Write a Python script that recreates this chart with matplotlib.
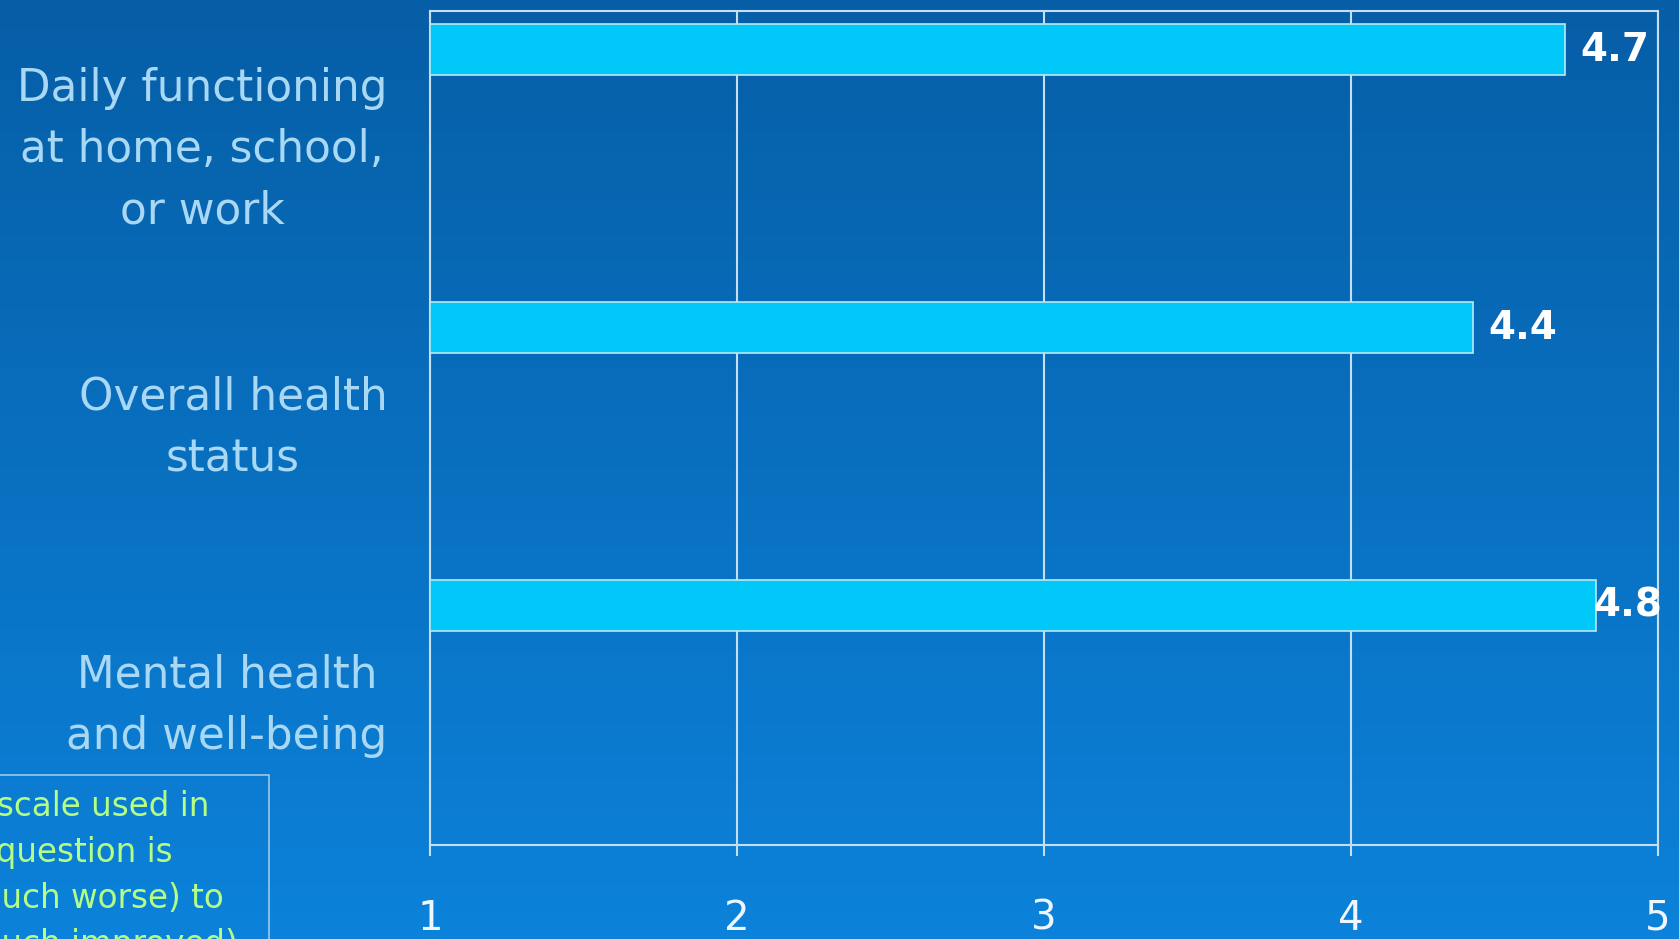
import matplotlib.pyplot as plt
import numpy as np
from matplotlib.patches import Rectangle
from matplotlib.transforms import blended_transform_factory

# data
categories = ['Daily functioning\nat home, school,\nor work',
              'Overall health\nstatus',
              'Mental health\nand well-being']
values = [4.7, 4.4, 4.8]
value_labels = ['4.7', '4.4', '4.8']
xticks = [1, 2, 3, 4, 5]
note = 'The scale used in\nthis question is\n1 (much worse) to\n5 (much improved)'

fig = plt.figure(figsize=(16.79, 9.39), dpi=100)

# gradient background
bg = fig.add_axes([0, 0, 1, 1], zorder=-10)
top = np.array([6, 94, 166]) / 255
bottom = np.array([12, 130, 218]) / 255
t = np.linspace(0, 1, 256)[:, None]
grad = top[None, :] * (1 - t) + bottom[None, :] * t
bg.imshow(grad[:, None, :], aspect='auto', extent=[0, 1, 0, 1])
bg.axis('off')

ax = fig.add_axes([0.2563, 0.1003, 0.7309, 0.8883])
ax.set_facecolor('none')

line_col = '#c6dff0'
y = np.arange(len(categories))
ax.barh(y - 0.36, [v - 1 for v in values], left=1, height=0.185,
        color='#00c8f8', edgecolor='#b8e8f4', linewidth=1.2, zorder=3)

for i, (v, lab) in enumerate(zip(values, value_labels)):
    ax.text(min(v + 0.05, 4.79), i - 0.36, lab, color='white', fontsize=28,
            fontweight='bold', va='center', ha='left', zorder=4)

ax.set_xlim(1, 5)
ax.set_ylim(2.5, -0.5)
ax.set_xticks(xticks)
ax.set_xticklabels([str(x) for x in xticks])
ax.set_yticks([])
ax.grid(axis='x', color=line_col, linewidth=1.5, zorder=1)
for s in ax.spines.values():
    s.set_color(line_col)
    s.set_linewidth(1.5)
ax.tick_params(axis='x', direction='out', length=8, width=1.5, color=line_col,
               labelsize=29, labelcolor='#eef6ff', pad=31)

trans = blended_transform_factory(ax.transAxes, ax.transData)
for i, c in enumerate(categories):
    ax.text(-0.035, i, c, transform=trans, ha='right', va='center',
            multialignment='center', fontsize=31.5, color='#a8d8f4',
            linespacing=1.55)

# note box in the lower left, cut by the figure edge
fig.patches.append(Rectangle((-0.05, -0.05), 0.05 + 269 / 1679, 0.05 + 164 / 939,
                             transform=fig.transFigure, facecolor='none',
                             edgecolor='#9cc8ec', linewidth=1.2))
fig.text(-74 / 1679, (939 - 790) / 939, note, ha='left', va='top',
         fontsize=23.5, color='#b4ff84', linespacing=1.5)

fig.savefig('out.png', dpi=100)
